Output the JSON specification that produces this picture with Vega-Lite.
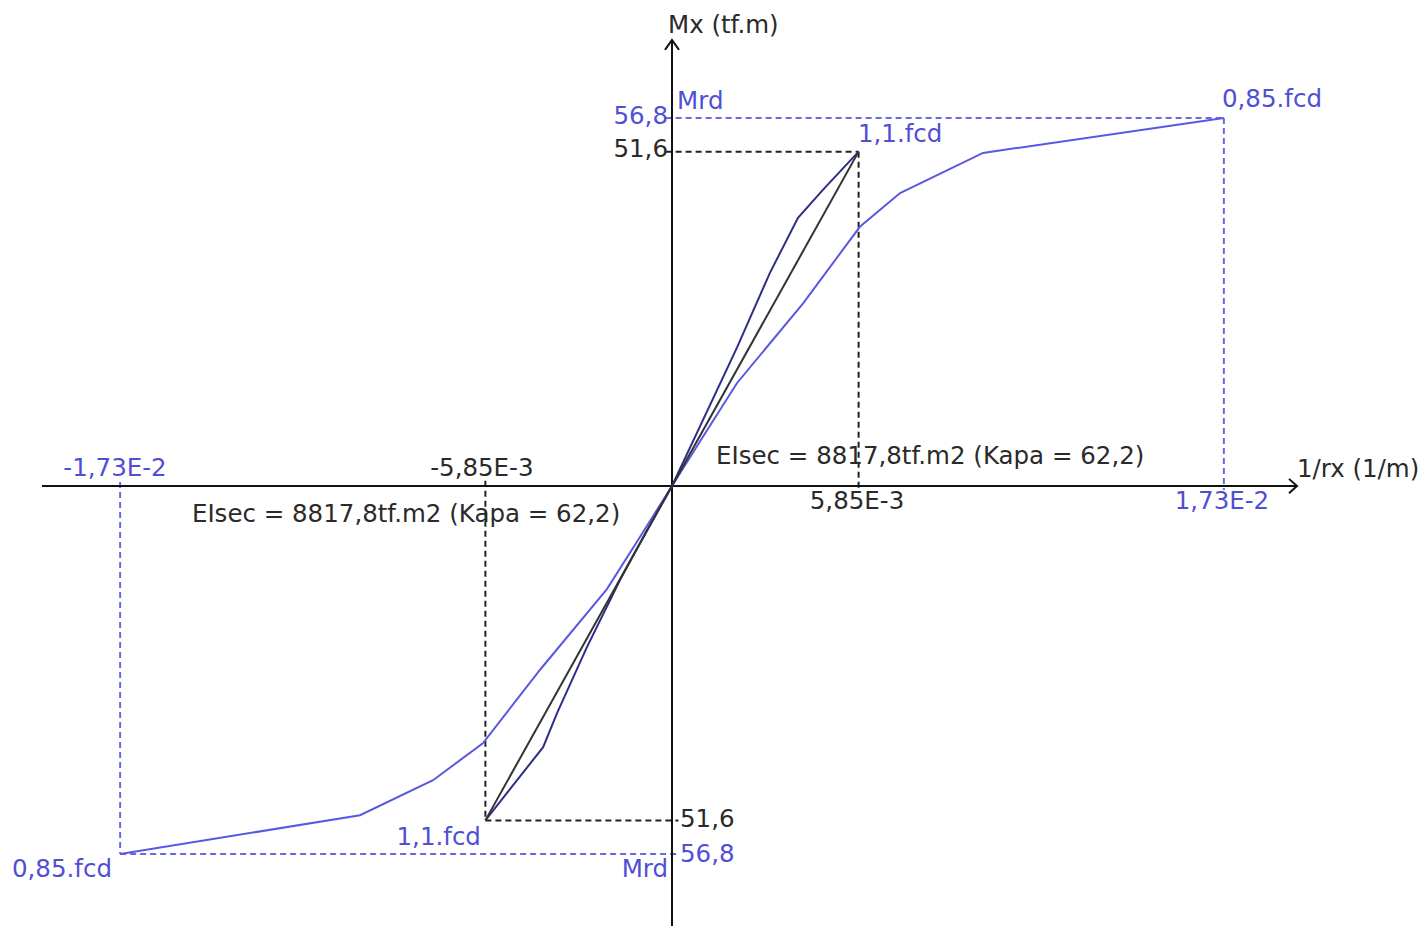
{
  "$schema": "https://vega.github.io/schema/vega-lite/v6.json",
  "width": 1421,
  "height": 926,
  "autosize": {"type": "none"},
  "padding": 0,
  "background": "white",
  "config": {"view": {"stroke": null}, "text": {"font": "DejaVu Sans", "fontSize": 24.5, "baseline": "middle"}},
  "datasets": {
    "axes": [
      {"x": -0.01975, "y": 0, "x2": 0.019592, "y2": 0},
      {"x": 0, "y": 68.83, "x2": 0, "y2": -67.9}
    ],
    "arrows": [
      {"a": "x", "i": 1, "x": 0.019342, "y": 1.1},
      {"a": "x", "i": 2, "x": 0.019592, "y": 0},
      {"a": "x", "i": 3, "x": 0.019342, "y": -1.1},
      {"a": "y", "i": 1, "x": -0.00022, "y": 67.3},
      {"a": "y", "i": 2, "x": 0, "y": 68.83},
      {"a": "y", "i": 3, "x": 0.00022, "y": 67.3}
    ],
    "guidesBlue": [
      {"x": -0.0002, "y": 56.8, "x2": 0.0173, "y2": 56.8},
      {"x": 0.0173, "y": 56.8, "x2": 0.0173, "y2": -0.6},
      {"x": -0.0173, "y": -56.8, "x2": 0.0002, "y2": -56.8},
      {"x": -0.0173, "y": 0.6, "x2": -0.0173, "y2": -56.8}
    ],
    "guidesBlack": [
      {"x": -0.0002, "y": 51.6, "x2": 0.00585, "y2": 51.6},
      {"x": 0.00585, "y": 51.6, "x2": 0.00585, "y2": -0.8},
      {"x": -0.00585, "y": -51.6, "x2": 0.0002, "y2": -51.6},
      {"x": -0.00585, "y": 0.8, "x2": -0.00585, "y2": -51.6}
    ],
    "curves": [
      {"s": "main", "x": -0.0173, "y": -56.8},
      {"s": "main", "x": -0.00978, "y": -50.8},
      {"s": "main", "x": -0.00749, "y": -45.4},
      {"s": "main", "x": -0.00593, "y": -39.7},
      {"s": "main", "x": -0.00411, "y": -28.2},
      {"s": "main", "x": -0.00204, "y": -15.9},
      {"s": "main", "x": -0.00097, "y": -7.6},
      {"s": "main", "x": 0, "y": 0},
      {"s": "main", "x": 0.00097, "y": 7.6},
      {"s": "main", "x": 0.00204, "y": 15.9},
      {"s": "main", "x": 0.00411, "y": 28.2},
      {"s": "main", "x": 0.00589, "y": 40.0},
      {"s": "main", "x": 0.00715, "y": 45.2},
      {"s": "main", "x": 0.00975, "y": 51.4},
      {"s": "main", "x": 0.0173, "y": 56.8},
      {"s": "lens", "x": -0.00585, "y": -51.6},
      {"s": "lens", "x": -0.00404, "y": -40.3},
      {"s": "lens", "x": -0.0036, "y": -35.0},
      {"s": "lens", "x": -0.00267, "y": -24.9},
      {"s": "lens", "x": -0.00163, "y": -14.5},
      {"s": "lens", "x": -0.00078, "y": -6.8},
      {"s": "lens", "x": 0, "y": 0},
      {"s": "lens", "x": 0.00204, "y": 21.4},
      {"s": "lens", "x": 0.00307, "y": 32.9},
      {"s": "lens", "x": 0.00395, "y": 41.4},
      {"s": "lens", "x": 0.00473, "y": 45.7},
      {"s": "lens", "x": 0.00585, "y": 51.6},
      {"s": "secant", "x": -0.00585, "y": -51.6},
      {"s": "secant", "x": 0.00585, "y": 51.6}
    ],
    "textBlackLeft": [
      {"t": "Mx (tf.m)", "x": -0.000125, "y": 71.0},
      {"t": "EIsec = 8817,8tf.m2 (Kapa = 62,2)", "x": 0.00138, "y": 4.5},
      {"t": "1/rx (1/m)", "x": 0.01959, "y": 2.5},
      {"t": "EIsec = 8817,8tf.m2 (Kapa = 62,2)", "x": -0.01505, "y": -4.5},
      {"t": "51,6", "x": 0.00025, "y": -51.5}
    ],
    "textBlackRight": [
      {"t": "51,6", "x": -0.000125, "y": 51.9}
    ],
    "textBlackCenter": [
      {"t": "5,85E-3", "x": 0.0058, "y": -2.4},
      {"t": "-5,85E-3", "x": -0.00596, "y": 2.6}
    ],
    "textBlueLeft": [
      {"t": "Mrd", "x": 0.00016, "y": 59.3},
      {"t": "1,1.fcd", "x": 0.00583, "y": 54.2},
      {"t": "0,85.fcd", "x": 0.01724, "y": 59.6},
      {"t": "0,85.fcd", "x": -0.02069, "y": -59.3},
      {"t": "56,8", "x": 0.00025, "y": -56.9}
    ],
    "textBlueRight": [
      {"t": "56,8", "x": -0.000125, "y": 56.9},
      {"t": "1,1.fcd", "x": -0.00599, "y": -54.3},
      {"t": "Mrd", "x": -0.000125, "y": -59.3}
    ],
    "textBlueCenter": [
      {"t": "1,73E-2", "x": 0.01724, "y": -2.4},
      {"t": "-1,73E-2", "x": -0.01746, "y": 2.6}
    ]
  },
  "encoding": {
    "x": {"field": "x", "type": "quantitative", "scale": {"domain": [-0.021066, 0.02348], "nice": false, "zero": false}, "axis": null},
    "y": {"field": "y", "type": "quantitative", "scale": {"domain": [-67.9, 75.0], "nice": false, "zero": false}, "axis": null}
  },
  "layer": [
    {
      "data": {"name": "guidesBlue"},
      "mark": {"type": "rule", "color": "#6a6ae0", "strokeWidth": 2, "strokeDash": [6, 4]},
      "encoding": {"x2": {"field": "x2"}, "y2": {"field": "y2"}}
    },
    {
      "data": {"name": "guidesBlack"},
      "mark": {"type": "rule", "color": "#222222", "strokeWidth": 2, "strokeDash": [6, 4]},
      "encoding": {"x2": {"field": "x2"}, "y2": {"field": "y2"}}
    },
    {
      "data": {"name": "axes"},
      "mark": {"type": "rule", "color": "#111111", "strokeWidth": 2},
      "encoding": {"x2": {"field": "x2"}, "y2": {"field": "y2"}}
    },
    {
      "data": {"name": "arrows"},
      "mark": {"type": "line", "color": "#111111", "strokeWidth": 2},
      "encoding": {"detail": {"field": "a"}, "order": {"field": "i", "type": "quantitative"}}
    },
    {
      "data": {"name": "curves"},
      "mark": {"type": "line", "strokeWidth": 2},
      "encoding": {
        "color": {"field": "s", "type": "nominal", "scale": {"domain": ["main", "lens", "secant"], "range": ["#5858e4", "#2e2e86", "#333333"]}, "legend": null}
      }
    },
    {
      "data": {"name": "textBlackLeft"},
      "mark": {"type": "text", "align": "left", "color": "#2a2a2a"},
      "encoding": {"text": {"field": "t"}}
    },
    {
      "data": {"name": "textBlackRight"},
      "mark": {"type": "text", "align": "right", "color": "#2a2a2a"},
      "encoding": {"text": {"field": "t"}}
    },
    {
      "data": {"name": "textBlackCenter"},
      "mark": {"type": "text", "align": "center", "color": "#2a2a2a"},
      "encoding": {"text": {"field": "t"}}
    },
    {
      "data": {"name": "textBlueLeft"},
      "mark": {"type": "text", "align": "left", "color": "#4f4fd6"},
      "encoding": {"text": {"field": "t"}}
    },
    {
      "data": {"name": "textBlueRight"},
      "mark": {"type": "text", "align": "right", "color": "#4f4fd6"},
      "encoding": {"text": {"field": "t"}}
    },
    {
      "data": {"name": "textBlueCenter"},
      "mark": {"type": "text", "align": "center", "color": "#4f4fd6"},
      "encoding": {"text": {"field": "t"}}
    }
  ]
}
